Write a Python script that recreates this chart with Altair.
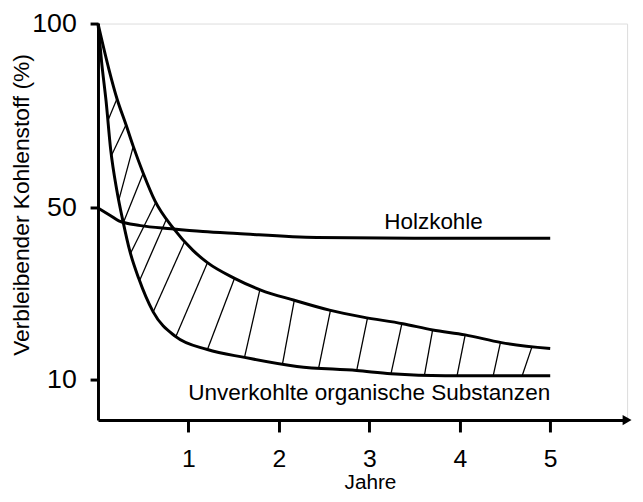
import altair as alt
import numpy as np
import pandas as pd

# --- data (years, % carbon remaining) ---
upper_years = [0, 0.12, 0.21, 0.31, 0.39, 0.50, 0.63, 0.83, 1.05, 1.21, 1.51, 1.80,
               2.17, 2.56, 2.93, 3.37, 3.70, 4.06, 4.46, 5.0]
upper_vals = [100, 87.2, 79.0, 71.9, 66.1, 59.0, 51.8, 44.9, 39.3, 36.3, 32.5, 29.7,
              27.3, 25.0, 23.4, 21.9, 20.5, 19.4, 17.7, 16.4]

lower_years = [0, 0.04, 0.09, 0.14, 0.21, 0.28, 0.35, 0.45, 0.61, 0.86, 1.21, 1.62,
               2.20, 2.86, 3.24, 3.84, 5.0]
lower_vals = [100, 89.1, 78.2, 65.3, 54.3, 46.2, 39.3, 32.5, 24.6, 19.0, 16.2, 14.5,
              12.6, 11.75, 11.1, 10.7, 10.7]

char_years = [0, 0.14, 0.23, 0.47, 0.81, 1.16, 1.54, 2.42, 3.5, 5.0]
char_vals = [50, 48.0, 46.7, 45.5, 44.7, 44.0, 43.5, 42.5, 42.3, 42.3]

# hatch lines: start on lower curve, end on upper curve (years)
hatch_low_x = [0.11, 0.15, 0.23, 0.28, 0.36, 0.46, 0.61, 0.86, 1.21, 1.62, 2.04,
               2.44, 2.86, 3.24, 3.61, 3.97, 4.37, 4.69]
hatch_up_x = [0.21, 0.31, 0.39, 0.50, 0.64, 0.76, 0.96, 1.21, 1.51, 1.79, 2.17,
              2.57, 2.98, 3.36, 3.70, 4.06, 4.45, 4.80]

x_ticks = [1, 2, 3, 4, 5]
y_ticks = [10, 50, 100]
x_domain = [0, 5.85]
y_domain = [2.42, 100]

labels = ["Holzkohle", "Unverkohlte organische Substanzen"]

FONT = "Liberation Sans"

upper_df = pd.DataFrame({"x": upper_years, "y": upper_vals})
lower_df = pd.DataFrame({"x": lower_years, "y": lower_vals})
char_df = pd.DataFrame({"x": char_years, "y": char_vals})
hatch_df = pd.DataFrame({
    "x": hatch_low_x,
    "y": np.interp(hatch_low_x, lower_years, lower_vals),
    "x2": hatch_up_x,
    "y2": np.interp(hatch_up_x, upper_years, upper_vals),
})

xs = alt.Scale(domain=x_domain, nice=False, zero=False)
ys = alt.Scale(type="pow", exponent=0.85, domain=y_domain, nice=False, zero=False)

x_axis = alt.Axis(values=x_ticks, title="Jahre", tickSize=12, tickWidth=3,
                  domainWidth=3, domainColor="black", tickColor="black",
                  labelFont=FONT, labelFontSize=25, labelColor="black",
                  labelPadding=15, grid=False,
                  titleFont=FONT, titleFontSize=21, titleFontWeight="normal",
                  titleColor="black", titleX=275, titleY=69,
                  titleBaseline="alphabetic", titleAlign="center")
y_axis = alt.Axis(values=y_ticks, title="Verbleibender Kohlenstoff (%)", tickSize=8,
                  tickWidth=3, domainWidth=3, domainColor="black", tickColor="black",
                  labelFont=FONT, labelFontSize=27, labelColor="black",
                  labelPadding=14, grid=False,
                  titleFont=FONT, titleFontSize=23, titleFontWeight="normal",
                  titleColor="black", titleAngle=270, titleAlign="center",
                  titleBaseline="middle", titleX=-77, titleY=183)


def enc(ch):
    return ch.encode(x=alt.X("x:Q", scale=xs, axis=x_axis),
                     y=alt.Y("y:Q", scale=ys, axis=y_axis))


def curve(df):
    return enc(alt.Chart(df).mark_line(color="black", strokeWidth=3,
                                       interpolate="monotone"))


hatch = alt.Chart(hatch_df).mark_rule(color="black", strokeWidth=1.3).encode(
    x=alt.X("x:Q", scale=xs, axis=x_axis), y=alt.Y("y:Q", scale=ys, axis=y_axis),
    x2="x2:Q", y2="y2:Q")

arrow_df = pd.DataFrame({"x": [x_domain[1]], "y": [y_domain[0]]})
arrow = enc(alt.Chart(arrow_df).mark_point(shape="triangle-right", filled=True,
                                           color="black", opacity=1, size=110))

lab1 = alt.Chart(pd.DataFrame({"x": [3.71], "y": [char_vals[-1]], "t": [labels[0]]})).mark_text(
    font=FONT, fontSize=22.7, color="black", align="center", baseline="alphabetic", dy=-9
).encode(x=alt.X("x:Q", scale=xs, axis=x_axis), y=alt.Y("y:Q", scale=ys, axis=y_axis), text="t:N")

lab2 = alt.Chart(pd.DataFrame({"x": [lower_years[-1]], "y": [lower_vals[-1]], "t": [labels[1]]})).mark_text(
    font=FONT, fontSize=22.8, color="black", align="right", baseline="alphabetic", dy=25
).encode(x=alt.X("x:Q", scale=xs, axis=x_axis), y=alt.Y("y:Q", scale=ys, axis=y_axis), text="t:N")

chart = alt.layer(
    hatch, curve(upper_df), curve(lower_df), curve(char_df), arrow, lab1, lab2
).properties(
    width=535, height=401,
    autosize=alt.AutoSizeParams(type="none"),
    padding={"left": 91, "top": 13, "right": 8, "bottom": 72},
).configure_view(stroke=None).configure(background="white")

chart.save("out.html", embed_options={"renderer": "svg", "actions": False})
